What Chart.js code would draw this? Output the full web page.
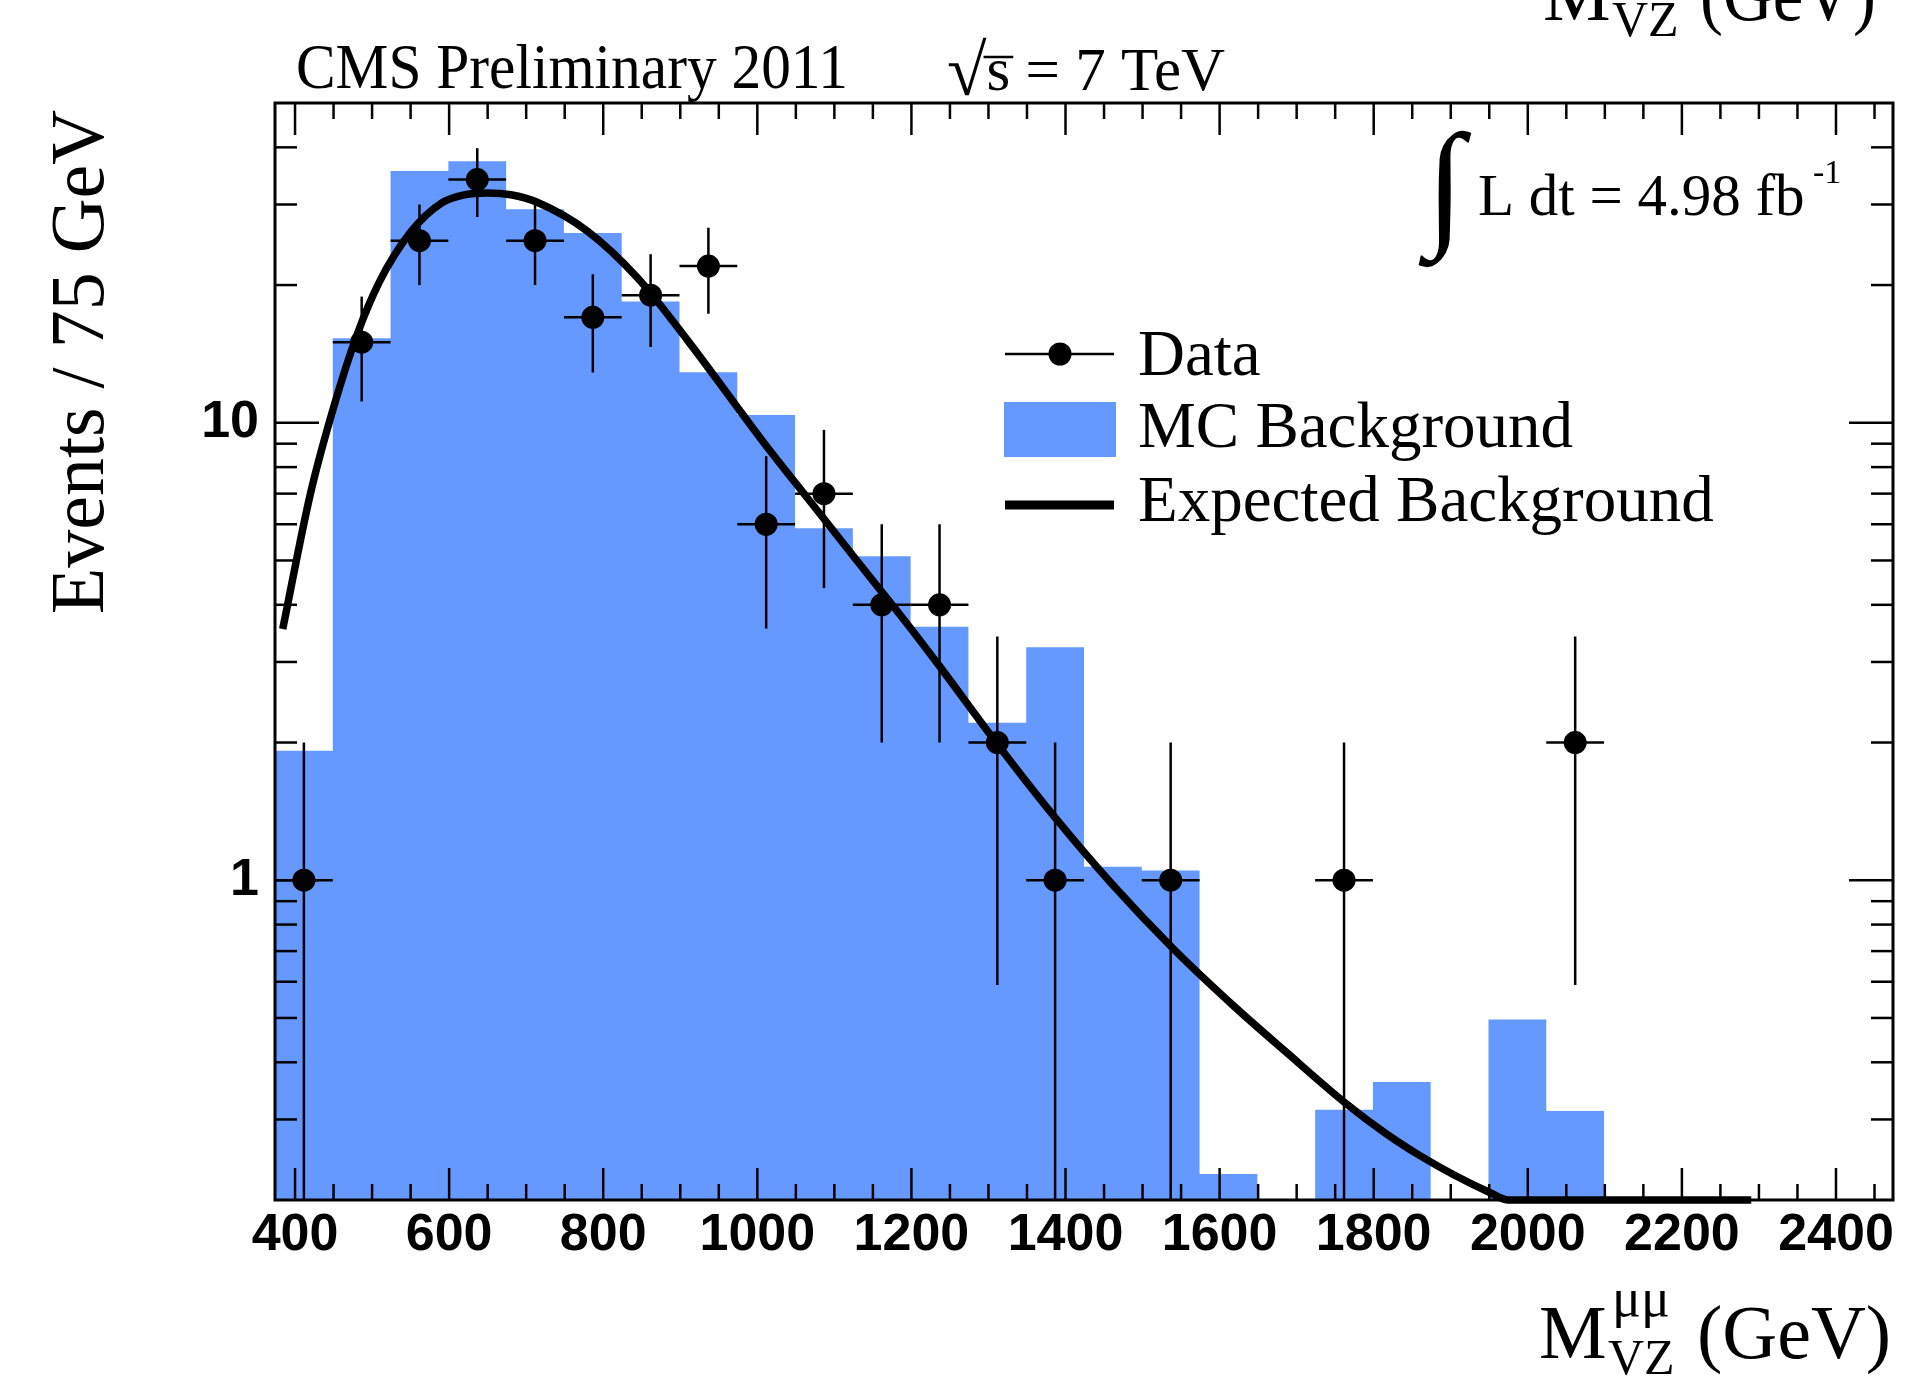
<!DOCTYPE html>
<html>
<head>
<meta charset="utf-8">
<script src="https://cdn.jsdelivr.net/npm/chart.js@4.4.1/dist/chart.umd.min.js"></script>
<style>
  html, body { margin: 0; padding: 0; background: #ffffff; }
  canvas { display: block; }
</style>
</head>
<body>
<canvas id="graficoMasa" width="1908" height="1376"></canvas>
<script>
// Histograma MC: bines de 75 GeV desde 374 GeV
const INICIO_BINES = 374;
const ANCHO_BIN = 75;
const contenidoMC = [
  1.92, 15.3, 35.5, 37.3, 29.3, 26.0, 18.4, 12.9, 10.4, 5.88, 5.11, 3.58,
  2.21, 3.23, 1.07, 1.05, 0.228, 0, 0.315, 0.362, 0, 0.496, 0.313, 0,
];

// Datos (centro del bin, eventos, error)
const datosX = [
  411.5, 486.5, 561.5, 636.5, 711.5, 786.5, 861.5, 936.5, 1011.5, 1086.5,
  1161.5, 1236.5, 1311.5, 1386.5, 1536.5, 1761.5, 2061.5,
];
const datosY = [1, 15, 25, 34, 25, 17, 19, 22, 6, 7, 4, 4, 2, 1, 1, 1, 2];
const datosErr = [1, 3.87, 5, 5.83, 5, 4.12, 4.36, 4.69, 2.45, 2.65, 2, 2, 1.41, 1, 1, 1, 1.41];

// Fondo esperado (por debajo de 0.2 queda pegado al eje)
const curvaX = [
  384, 420, 450, 480, 510, 550, 590, 620, 650, 680, 715, 780, 845, 910, 970,
  1015, 1050, 1090, 1125, 1160, 1185, 1235, 1310, 1385, 1460, 1540, 1620, 1685,
  1765, 1815, 1860, 1905, 1950, 1975, 2100, 2200, 2290,
];
const curvaY = [
  3.54, 7.0, 10.8, 15.5, 20.4, 26.1, 30.2, 31.5, 31.8, 31.5, 30.3, 26.2, 20.7,
  15.1, 11.05, 8.75, 7.37, 6.06, 5.1, 4.3, 3.81, 2.96, 2.0, 1.38, 0.982, 0.708,
  0.528, 0.423, 0.324, 0.28, 0.25, 0.2265, 0.208, 0.2, 0.2, 0.2, 0.2,
];

const ticksX = [400, 600, 800, 1000, 1200, 1400, 1600, 1800, 2000, 2200, 2400];
const ticksXMenores = [];
for (let v = 450; v < 2474; v += 50) {
  if (!ticksX.includes(v)) ticksXMenores.push(v);
}
const ticksY = [1, 10];
const ticksYMenores = [0.3, 0.4, 0.5, 0.6, 0.7, 0.8, 0.9, 2, 3, 4, 5, 6, 7, 8, 9, 20, 30, 40];

const AZUL_MC = "#6699ff";
const SERIF = '"Liberation Serif", "DejaVu Serif", serif';
const Y_MIN = 0.2;

// los bines vacios se llevan por debajo del eje para que el relleno no se corte
const puntosMC = contenidoMC.map((v, i) => ({ x: INICIO_BINES + i * ANCHO_BIN, y: v > 0 ? v : Y_MIN / 10 }));
puntosMC.push({ x: INICIO_BINES + contenidoMC.length * ANCHO_BIN, y: Y_MIN / 10 });
const puntosDatos = datosX.map((x, i) => ({ x, y: datosY[i] }));
const puntosCurva = curvaX.map((x, i) => ({ x, y: curvaY[i] }));

const linea = (ctx, x1, y1, x2, y2) => {
  ctx.beginPath();
  ctx.moveTo(x1, y1);
  ctx.lineTo(x2, y2);
  ctx.stroke();
};

const pluginEstiloROOT = {
  id: "estiloROOT",
  afterDatasetsDraw(chart) {
    const { ctx, chartArea: a, scales: { x, y } } = chart;
    ctx.save();
    ctx.beginPath();
    ctx.rect(a.left, a.top, a.right - a.left, a.bottom - a.top);
    ctx.clip();
    ctx.strokeStyle = "#000";
    ctx.lineWidth = 2.5;
    datosX.forEach((cx, i) => {
      const px = x.getPixelForValue(cx);
      const py = y.getPixelForValue(datosY[i]);
      const bajo = datosY[i] - datosErr[i];
      const pyAlto = y.getPixelForValue(datosY[i] + datosErr[i]);
      const pyBajo = bajo > y.min ? y.getPixelForValue(bajo) : a.bottom;
      linea(ctx, px, pyAlto, px, pyBajo);
      linea(ctx, x.getPixelForValue(cx - ANCHO_BIN / 2), py, x.getPixelForValue(cx + ANCHO_BIN / 2), py);
    });
    ctx.restore();
  },
  afterDraw(chart) {
    const { ctx, chartArea: a, scales: { x, y } } = chart;
    ctx.save();
    ctx.strokeStyle = "#000";
    ctx.fillStyle = "#000";

    // marco y marcas hacia dentro
    ctx.lineWidth = 2.5;
    ticksX.forEach((v) => {
      const px = x.getPixelForValue(v);
      linea(ctx, px, a.bottom, px, a.bottom - 32);
      linea(ctx, px, a.top, px, a.top + 32);
    });
    ticksXMenores.forEach((v) => {
      const px = x.getPixelForValue(v);
      linea(ctx, px, a.bottom, px, a.bottom - 16);
      linea(ctx, px, a.top, px, a.top + 16);
    });
    ticksY.forEach((v) => {
      const py = y.getPixelForValue(v);
      linea(ctx, a.left, py, a.left + 44, py);
      linea(ctx, a.right, py, a.right - 44, py);
    });
    ticksYMenores.forEach((v) => {
      const py = y.getPixelForValue(v);
      linea(ctx, a.left, py, a.left + 22, py);
      linea(ctx, a.right, py, a.right - 22, py);
    });
    ctx.lineWidth = 3;
    ctx.strokeRect(a.left, a.top, a.right - a.left, a.bottom - a.top);

    // titulos de ejes
    ctx.textBaseline = "alphabetic";
    ctx.textAlign = "left";
    ctx.font = `76px ${SERIF}`;
    ctx.fillText("M", 1539, 1358);
    ctx.font = `54px ${SERIF}`;
    ctx.fillText("μμ", 1612, 1316, 60);
    ctx.font = `50px ${SERIF}`;
    ctx.fillText("VZ", 1608, 1374, 71);
    ctx.font = `76px ${SERIF}`;
    ctx.fillText("(GeV)", 1697, 1358, 196);

    ctx.font = `76px ${SERIF}`;
    ctx.fillText("M", 1543, 20);
    ctx.font = `50px ${SERIF}`;
    ctx.fillText("VZ", 1612, 36, 71);
    ctx.font = `76px ${SERIF}`;
    ctx.fillText("(GeV)", 1700, 20, 176);

    ctx.save();
    ctx.translate(103, 362);
    ctx.rotate(-Math.PI / 2);
    ctx.textAlign = "center";
    ctx.font = `76px ${SERIF}`;
    ctx.fillText("Events / 75 GeV", 0, 0, 512);
    ctx.restore();

    // textos superiores
    ctx.font = `64px ${SERIF}`;
    ctx.fillText("CMS Preliminary 2011", 296, 88, 552);
    ctx.font = `72px ${SERIF}`;
    ctx.fillText("√", 947, 95);
    const finRaiz = 947 + ctx.measureText("√").width;
    ctx.font = `61px ${SERIF}`;
    ctx.fillText("s = 7 TeV", finRaiz, 90, 240);
    const anchoS = ctx.measureText("s").width;
    ctx.lineWidth = 2.5;
    linea(ctx, finRaiz - 3, 57, finRaiz + anchoS + 3, 57);

    ctx.font = `bold 139px ${SERIF}`;
    ctx.fillText("∫", 1426, 230);
    ctx.font = `59px ${SERIF}`;
    ctx.fillText("L dt = 4.98 fb", 1478, 215, 331);
    ctx.font = `34px ${SERIF}`;
    ctx.fillText("-1", 1813, 183);

    // leyenda
    ctx.lineWidth = 2.5;
    linea(ctx, 1005, 354, 1114, 354);
    ctx.beginPath();
    ctx.arc(1060, 354, 11.5, 0, Math.PI * 2);
    ctx.fill();
    ctx.fillStyle = AZUL_MC;
    ctx.fillRect(1004, 402, 112, 55);
    ctx.fillStyle = "#000";
    ctx.lineWidth = 9;
    linea(ctx, 1005, 505, 1114, 505);
    ctx.font = `65px ${SERIF}`;
    ctx.fillText("Data", 1138, 375);
    ctx.fillText("MC Background", 1138, 447, 437);
    ctx.fillText("Expected Background", 1138, 521, 579);
    ctx.restore();
  },
};

const fuenteTicks = { family: '"Liberation Sans", Arial, sans-serif', weight: "bold", size: 52 };

new Chart(document.getElementById("graficoMasa"), {
  type: "line",
  data: {
    datasets: [
      {
        type: "scatter",
        label: "Data",
        data: puntosDatos,
        pointRadius: 11.5,
        pointBackgroundColor: "#000",
        pointBorderWidth: 0,
        order: 0,
      },
      {
        type: "line",
        label: "Expected Background",
        data: puntosCurva,
        borderColor: "#000",
        borderWidth: 7.5,
        pointRadius: 0,
        cubicInterpolationMode: "monotone",
        fill: false,
        clip: 8,
        order: 1,
      },
      {
        type: "line",
        label: "MC Background",
        data: puntosMC,
        stepped: "before",
        fill: "start",
        backgroundColor: AZUL_MC,
        borderColor: "rgba(0,0,0,0)",
        borderWidth: 1,
        pointRadius: 0,
        order: 2,
      },
    ],
  },
  options: {
    responsive: false,
    devicePixelRatio: 1,
    animation: false,
    layout: { padding: { top: 103, right: 15, left: 0, bottom: 0 } },
    plugins: {
      legend: { display: false },
      tooltip: { enabled: false },
    },
    scales: {
      x: {
        type: "linear",
        min: INICIO_BINES,
        max: INICIO_BINES + 28 * ANCHO_BIN,
        grid: { display: false, drawTicks: false },
        border: { display: false },
        afterBuildTicks: (escala) => {
          escala.ticks = ticksX.map((v) => ({ value: v }));
        },
        afterFit: (escala) => {
          escala.height = 176;
        },
        ticks: {
          font: fuenteTicks,
          color: "#000",
          padding: 4,
          maxRotation: 0,
          autoSkip: false,
          callback: (v) => String(v),
        },
      },
      y: {
        type: "logarithmic",
        min: Y_MIN,
        max: 50,
        grid: { display: false, drawTicks: false },
        border: { display: false },
        afterBuildTicks: (escala) => {
          escala.ticks = ticksY.map((v) => ({ value: v }));
        },
        afterFit: (escala) => {
          escala.width = 275;
        },
        ticks: {
          font: fuenteTicks,
          color: "#000",
          padding: 16,
          autoSkip: false,
          callback: (v) => String(v),
        },
      },
    },
  },
  plugins: [pluginEstiloROOT],
});
</script>
</body>
</html>
